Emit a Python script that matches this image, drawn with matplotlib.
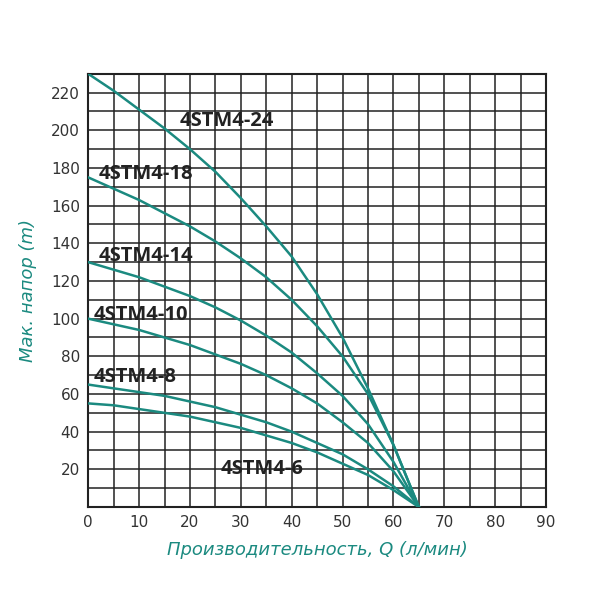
import matplotlib
matplotlib.use("Agg")
import matplotlib.pyplot as plt

Q = [0, 5, 10, 15, 20, 25, 30, 35, 40, 45, 50, 55, 60, 65]
h24 = [230, 221, 211, 201, 190, 178, 164, 149, 133, 113, 90, 63, 33, 0]
h18 = [175, 169, 163, 156, 149, 141, 132, 122, 110, 96, 80, 60, 33, 0]
h14 = [130, 126, 122, 117, 112, 106, 99, 91, 82, 71, 59, 44, 24, 0]
h10 = [100, 97, 94, 90, 86, 81, 76, 70, 63, 55, 45, 34, 19, 0]
h8 = [65, 63, 61, 59, 56, 53, 49, 45, 40, 34, 28, 20, 11, 0]
h6 = [55, 54, 52, 50, 48, 45, 42, 38, 34, 29, 23, 17, 9, 0]
series = [h24, h18, h14, h10, h8, h6]
names = ["4STM4-24", "4STM4-18", "4STM4-14", "4STM4-10", "4STM4-8", "4STM4-6"]
label_pos = [(18, 205), (2, 177), (2, 133), (1, 102), (1, 69), (26, 20)]
xticks = list(range(0, 91, 10))
yticks = list(range(20, 221, 20))

teal = "#1b8a80"
fig = plt.figure(figsize=(6, 6), dpi=100)
ax = fig.add_axes([0.147, 0.155, 0.763, 0.722])
ax.set_xlim(0, 90)
ax.set_ylim(0, 230)
for x in range(0, 91, 5):
    ax.axvline(x, color="#222222", lw=1.1, zorder=1)
for y in range(0, 231, 10):
    ax.axhline(y, color="#222222", lw=1.1, zorder=1)
for s in series:
    ax.plot(Q, s, color=teal, lw=1.8, zorder=3)
for n, (x, y) in zip(names, label_pos):
    ax.text(x, y, n, fontsize=14.5, fontweight="bold", color="#222222",
            va="center", ha="left", zorder=4, family="Open Sans")
ax.set_xticks(xticks)
ax.set_yticks(yticks)
ax.tick_params(length=0, labelsize=11, colors="#333333", pad=6)
for s in ax.spines.values():
    s.set_color("#222222"); s.set_linewidth(1.5)
ax.set_xlabel("Производительность, Q (л/мин)", fontsize=13, style="italic", color=teal, labelpad=8)
ax.set_ylabel("Мак. напор (m)", fontsize=13, style="italic", color=teal, labelpad=10)
fig.savefig("out.png", dpi=100)
